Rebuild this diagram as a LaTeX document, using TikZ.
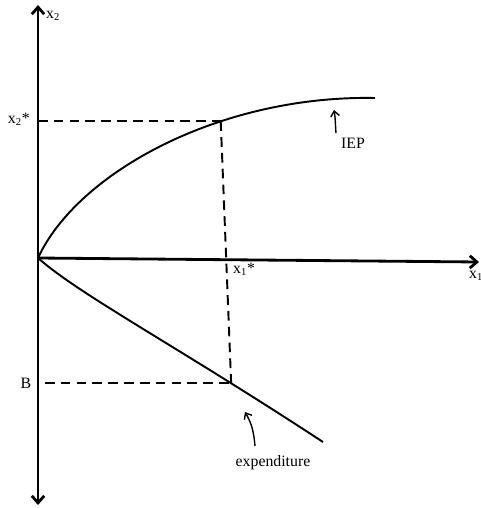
\documentclass[tikz,border=0pt]{standalone}
\usepackage{fontspec}
\setmainfont{Liberation Serif}
\usepackage{tikz}
\usetikzlibrary{arrows.meta,positioning,calc}

\begin{document}
\begin{tikzpicture}[
    axis/.style={line width=1.6pt,{Straight Barb[length=4pt,width=7pt]}-{Straight Barb[length=4pt,width=7pt]}},
    curve/.style={line width=1.1pt},
    guide/.style={line width=1.1pt,dash pattern=on 5.5pt off 3.5pt},
    pointer/.style={line width=0.8pt,-{Straight Barb[length=3pt,width=5pt]}},
    lbl/.style={inner sep=1pt,font=\fontsize{9}{11}\selectfont}
]
    \useasboundingbox (0,0) rectangle (9.6,-10.16);

    % Axes
    \coordinate (O) at (0.76,-5.16);
    \coordinate (ytop) at (0.76,-0.1);
    \coordinate (ybot) at (0.76,-10.1);
    \coordinate (xend) at (9.58,-5.24);
    \draw[axis] (ybot) -- (ytop);
    \draw[line width=1.6pt,-{Straight Barb[length=4pt,width=7pt]}] (O) -- (xend);

    % IEP curve
    \draw[curve] (O) .. controls (1.55,-3.45) and (4.4,-1.9) .. (7.5,-1.96)
        coordinate[pos=0.65] (P);

    % Expenditure line
    \draw[curve] (O) .. controls (1.6,-5.9) and (3.5,-6.9) .. (6.46,-8.84)
        coordinate[pos=0.775] (Q);

    % Dashed guides
    \draw[guide] (P -| O) -- (P);
    \draw[guide] (P) -- (Q);
    \draw[guide] ($(Q -| O)+(0.14,0)$) -- (Q);

    % Pointers
    \coordinate (ieptail) at (6.72,-2.66);
    \coordinate (ieptip) at (6.68,-2.2);
    \draw[pointer] (ieptail) to[out=95,in=-80] (ieptip);
    \coordinate (exptail) at (5.1,-8.92);
    \coordinate (exptip) at (4.9,-8.24);
    \draw[pointer] (exptail) to[out=95,in=-60] (exptip);

    % Labels
    \node[lbl,anchor=west] (x2) at (0.88,-0.32) {x\textsubscript{2}};
    \node[lbl,anchor=east] (x2s) at (0.64,-2.38) {x\textsubscript{2}*};
    \node[lbl,anchor=north west] (x1s) at (4.62,-5.22) {x\textsubscript{1}*};
    \node[lbl,anchor=north west] (x1) at (9.34,-5.38) {x\textsubscript{1}};
    \node[lbl] (iep) at (7.06,-2.86) {IEP};
    \node[lbl] (bval) at (0.52,-7.66) {B};
    \node[lbl] (expd) at (5.46,-9.26) {expenditure};
\end{tikzpicture}
\end{document}
